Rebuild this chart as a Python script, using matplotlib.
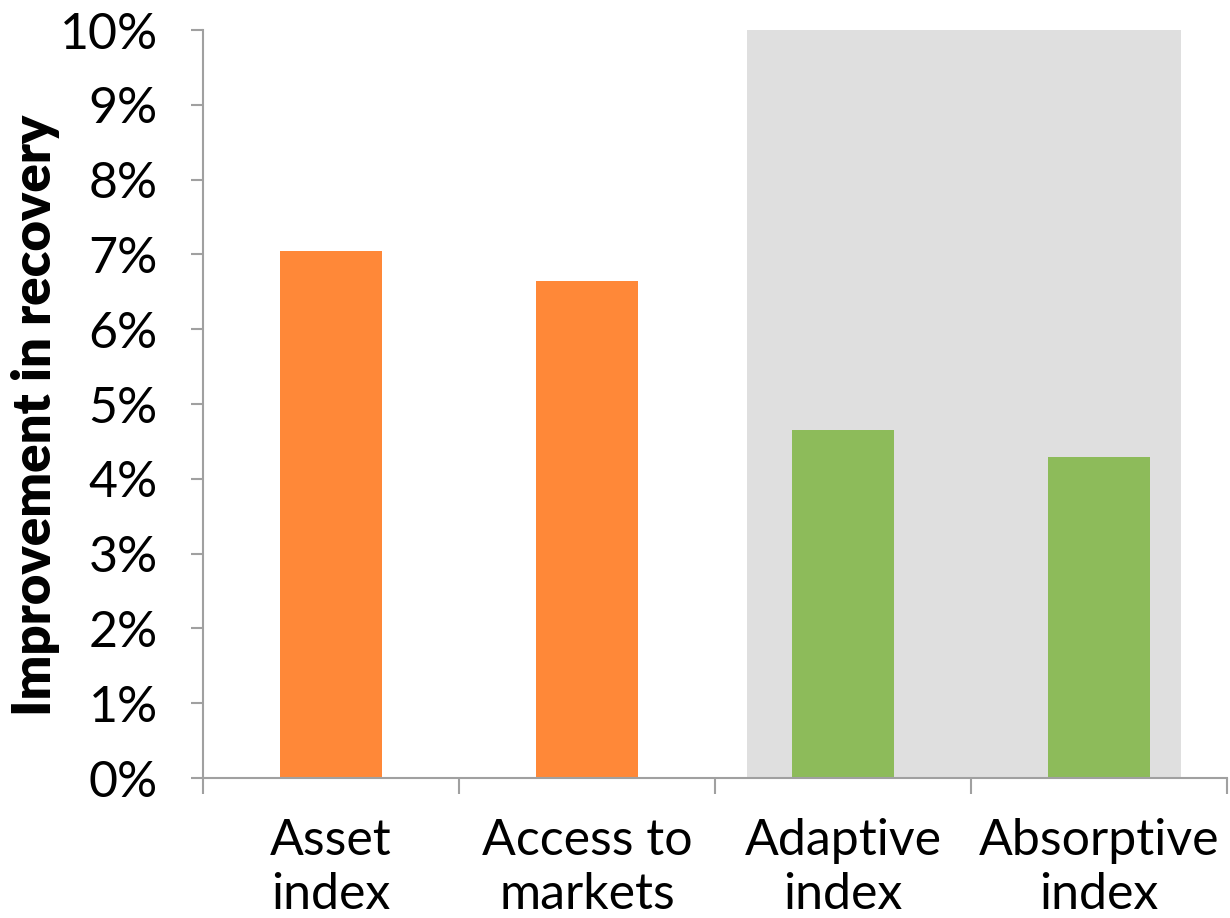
import numpy as np
import matplotlib.pyplot as plt
from matplotlib.ticker import FixedLocator, PercentFormatter

categories = ["Asset\nindex", "Access to\nmarkets", "Adaptive\nindex", "Absorptive\nindex"]
values = [7.05, 6.64, 4.65, 4.29]   # improvement in recovery, %
groups = ["asset", "asset", "capacity", "capacity"]
y_ticks = np.arange(0, 11, 1)

colors = {"asset": "#FF8838", "capacity": "#8DBB5A"}
axis_col = "#A0A0A0"

plt.rcParams['font.family'] = ['Lato', 'DejaVu Sans']

fig = plt.figure(figsize=(12.3, 9.18), dpi=100)
ax = fig.add_axes([0.165, 0.1525, 0.8326, 0.8148])

x = np.arange(len(categories))

# shaded panel behind the resilience capacity bars
ax.axvspan(1.625, 3.32, color="#DFDFDF", zorder=0, lw=0)

ax.bar(x, values, width=0.4, color=[colors[g] for g in groups], zorder=2)

ax.set_xlim(-0.5, len(categories) - 0.5)
ax.set_ylim(0, 10)

# spines
for s in ["top", "right"]:
    ax.spines[s].set_visible(False)
for s in ["left", "bottom"]:
    ax.spines[s].set_color(axis_col)
    ax.spines[s].set_linewidth(1.5)
    ax.spines[s].set_zorder(3)

# y axis
ax.set_yticks(y_ticks)
ax.yaxis.set_major_formatter(PercentFormatter(decimals=0))
ax.tick_params(axis="y", which="major", direction="out", length=8.5, width=1.5,
               color=axis_col, labelsize=36, pad=24, labelcolor="black")

# x axis: labels centred on bars, tick marks between categories
ax.set_xticks(x)
ax.set_xticklabels(categories)
ax.xaxis.set_minor_locator(FixedLocator(np.arange(-0.5, len(categories), 1)))
ax.tick_params(axis="x", which="major", length=0, labelsize=36, pad=29, labelcolor="black")
ax.tick_params(axis="x", which="minor", direction="out", length=11.5, width=1.5, color=axis_col)
plt.setp(ax.get_xticklabels(), linespacing=1.2)

ax.set_ylabel("Improvement in recovery", fontsize=38, fontweight="heavy")
ax.yaxis.set_label_coords(-0.14, 0.485)

fig.savefig("out.png", dpi=100)
